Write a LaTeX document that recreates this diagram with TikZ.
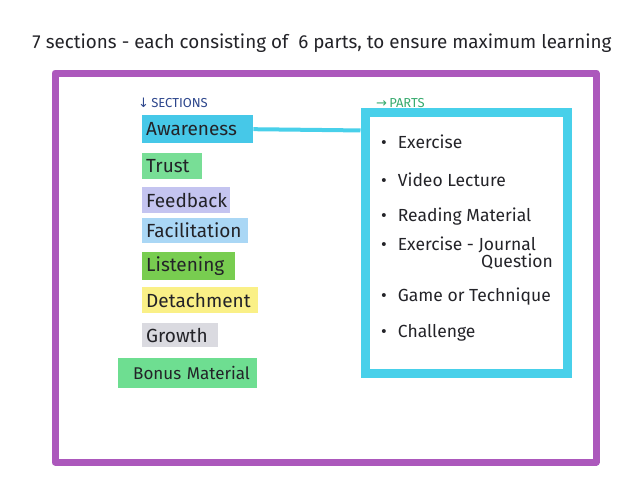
\documentclass[tikz,border=0pt]{standalone}
\usepackage{fontspec}
\setmainfont{Fira Sans}
\newfontfamily\symf{DejaVu Sans}
\usetikzlibrary{calc}
\definecolor{purp}{RGB}{172,88,188}
\definecolor{cyanm}{RGB}{72,208,234}
\definecolor{ink}{RGB}{35,35,40}
\definecolor{secblue}{RGB}{45,70,140}
\definecolor{partgreen}{RGB}{55,170,110}
\definecolor{hlAw}{RGB}{70,200,232}
\definecolor{hlTr}{RGB}{120,222,150}
\definecolor{hlFe}{RGB}{196,196,240}
\definecolor{hlFa}{RGB}{170,215,245}
\definecolor{hlLi}{RGB}{120,205,80}
\definecolor{hlDe}{RGB}{250,240,135}
\definecolor{hlGr}{RGB}{218,218,224}
\definecolor{hlBo}{RGB}{110,222,145}
\tikzset{
  hl/.style={anchor=north west, inner xsep=4pt, inner ysep=0pt, align=left,
    font=\fontsize{19}{21}\selectfont, text=ink},
  item/.style={anchor=west, inner sep=0pt, align=left,
    font=\fontsize{17.5}{16}\selectfont, text=ink},
  hdr/.style={anchor=west, inner sep=0pt, font=\fontsize{13}{15}\selectfont}
}
\begin{document}
\begin{tikzpicture}[x=1pt,y=-1pt]
\useasboundingbox (0,0) rectangle (638,479);
\node[text=ink] (title) at (322,43) {\resizebox{579pt}{!}{7 sections - each consisting of \ 6 parts, to ensure maximum learning}};
\node[draw=purp, line width=7pt, line join=round, minimum width=541pt, minimum height=389pt, inner sep=0pt] (frame) at (325.5,267.5) {};
% sections
\node[hdr, text=secblue] (sech) at (138,103) {{\symf ↓}\,SECTIONS};
\node[hl, fill=hlAw, text width=103pt, minimum height=28pt] (aw) at (142,115) {Awareness};
\node[hl, fill=hlTr, text width=52pt, minimum height=26pt] (tr) at (142,153) {Trust};
\node[hl, fill=hlFe, text width=80pt, minimum height=26pt] (fe) at (142,187) {Feedback};
\node[hl, fill=hlFa, text width=98pt, minimum height=25pt] (fa) at (142,218) {Facilitation};
\node[hl, fill=hlLi, text width=85pt, minimum height=28pt] (li) at (142,252) {Listening};
\node[hl, fill=hlDe, text width=108pt, minimum height=26pt] (de) at (142,287) {Detachment};
\node[hl, fill=hlGr, text width=68pt, minimum height=24pt] (gr) at (142,323) {Growth};
\node[hl, fill=hlBo, text width=131pt, minimum height=30pt, font=\fontsize{17}{19}\selectfont] (bo) at (118,358) {\hspace*{11pt}Bonus Material};
% parts
\node[hdr, text=partgreen] (parth) at (376,103) {{\symf →}\,PARTS};
\node[draw=cyanm, line width=9pt, minimum width=202pt, minimum height=261pt, inner sep=0pt] (parts) at (466,242.5) {};
\draw[cyanm, line width=4pt] (aw.east) -- ($(parts.north west)!0.085!(parts.south west)$);
\node[item] (p1) at (381,142) {\textbullet\hspace{11pt}Exercise};
\node[item] (p2) at (381,180) {\textbullet\hspace{11pt}Video Lecture};
\node[item] (p3) at (381,217) {\textbullet\hspace{11pt}Reading Material};
\node[item] (p4) at (381,253) {\textbullet\hspace{11pt}Exercise - Journal\\\hspace*{100pt}Question};
\node[item] (p5) at (381,297) {\textbullet\hspace{11pt}Game or Technique};
\node[item] (p6) at (381,333) {\textbullet\hspace{11pt}Challenge};
\end{tikzpicture}
\end{document}
